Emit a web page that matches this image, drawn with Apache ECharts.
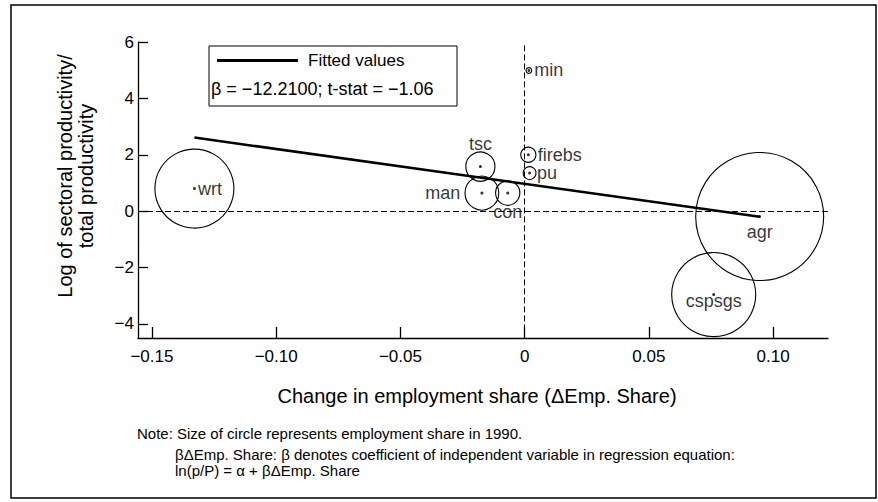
<!DOCTYPE html>
<html>
<head>
<meta charset="utf-8">
<script src="https://cdn.jsdelivr.net/npm/echarts@6/dist/echarts.min.js"></script>
<style>html,body{margin:0;padding:0;background:#fff;}#c{width:878px;height:502px;}</style>
</head>
<body>
<div id="c"></div>
<script>
// ---- data ----
const categories   = ['wrt','tsc','man','con','min','firebs','pu','agr','cspsgs'];
const empChange    = [-0.1329,-0.0178,-0.0172,-0.0068,0.0017,0.0015,0.0020,0.0946,0.0761];
const logRelProd   = [0.80,1.58,0.64,0.64,4.99,2.00,1.35,-0.19,-2.96];
const empShare1990 = [19.1,2.6,3.5,1.8,0.1,0.7,0.5,50.1,21.6];
const fittedX = [-0.1329, 0.0946];
const fittedY = [2.61, -0.20];
const xTicks = [-0.15,-0.10,-0.05,0,0.05,0.10];
const yTicks = [-4,-2,0,2,4,6];

// ---- styling / layout ----
const FONT = 'Liberation Sans, Arial, Helvetica, sans-serif';
const labelLayout = {
  wrt:{position:'right',distance:2}, tsc:{position:'top',distance:12},
  man:{position:'left',distance:20}, con:{position:'bottom',distance:8},
  min:{position:'right',distance:4}, firebs:{position:'right',distance:8},
  pu:{position:'right',distance:6}, agr:{position:'bottom',distance:5},
  cspsgs:{position:'bottom',distance:-4}
};
const sizeScale = 18.08; // diameter px per sqrt(share)
const minus = s => s.replace('-', '\u2212');
const fmtX = v => v === 0 ? '0' : minus(v.toFixed(2));
const fmtY = v => minus(String(v));

const pts = categories.map((n,i)=>({name:n, value:[empChange[i], logRelProd[i], empShare1990[i]]}));
const dots = categories.map((n,i)=>({
  name:n, value:[empChange[i], logRelProd[i]],
  label:{show:true, position:labelLayout[n].position, distance:labelLayout[n].distance}
}));

const chart = echarts.init(document.getElementById('c'), null, {renderer:'svg'});
chart.setOption({
  animation:false,
  backgroundColor:'#fff',
  textStyle:{fontFamily:FONT, color:'#000'},
  grid:{left:138, right:50, top:42, bottom:164},
  legend:{
    data:['Fitted values'], left:217, top:52, padding:0,
    icon:'rect', itemWidth:81, itemHeight:3,
    textStyle:{fontFamily:FONT, fontSize:17, color:'#000', padding:[0,0,0,5]}
  },
  xAxis:{
    type:'value', min:-0.1556, max:0.1221,
    name:'Change in employment share (\u0394Emp. Share)', nameLocation:'middle', nameGap:48,
    nameTextStyle:{fontFamily:FONT, fontSize:20, color:'#000', padding:[0,12,0,0]},
    axisLine:{show:true, onZero:false, lineStyle:{color:'#000', width:1.3}},
    axisTick:{show:true, inside:true, length:11, customValues:xTicks, lineStyle:{color:'#000', width:1.3}},
    axisLabel:{show:true, customValues:xTicks, formatter:fmtX, fontFamily:FONT, fontSize:17, color:'#000', margin:10},
    splitLine:{show:false}
  },
  yAxis:{
    type:'value', min:-4.5, max:6,
    name:'Log of sectoral productivity/\ntotal productivity', nameLocation:'middle', nameRotate:90, nameGap:42,
    nameTextStyle:{fontFamily:FONT, fontSize:20, lineHeight:21, color:'#000', align:'center', padding:[0,0,0,28]},
    axisLine:{show:true, onZero:false, lineStyle:{color:'#000', width:1.3}},
    axisTick:{show:true, inside:true, length:10, customValues:yTicks, lineStyle:{color:'#000', width:1.3}},
    axisLabel:{show:true, customValues:yTicks, formatter:fmtY, fontFamily:FONT, fontSize:17, color:'#000', margin:4},
    splitLine:{show:false}
  },
  series:[
    {
      name:'Employment share 1990', type:'scatter', data:pts, silent:true, z:2,
      symbol:'circle', symbolSize:v=>sizeScale*Math.sqrt(v[2]),
      itemStyle:{color:'rgba(0,0,0,0)', borderColor:'#000', borderWidth:1.1, opacity:1}
    },
    {
      name:'Sectors', type:'scatter', data:dots, silent:true, z:4,
      symbol:'circle', symbolSize:3, itemStyle:{color:'#000'},
      label:{formatter:'{b}', fontFamily:FONT, fontSize:18, color:'#000'},
      markLine:{
        silent:true, symbol:'none', label:{show:false},
        lineStyle:{color:'#000', width:1, type:[6,3]},
        data:[
          {yAxis:0},
          [{coord:[0,5.88]},{coord:[0,-4.5]}]
        ]
      }
    },
    {
      name:'Fitted values', type:'line', z:5,
      data:fittedX.map((x,i)=>[x, fittedY[i]]),
      symbol:'none', color:'#000', itemStyle:{color:'#000'},
      lineStyle:{color:'#000', width:2.6}
    }
  ],
  graphic:[
    {type:'rect', silent:true, shape:{x:11, y:5, width:865, height:493},
     style:{fill:'none', stroke:'#000', lineWidth:1.5}},
    {type:'rect', silent:true, shape:{x:209, y:46, width:248, height:60},
     style:{fill:'#fff', stroke:'#000', lineWidth:1}, z:0},
    {type:'text', silent:true, left:211, top:80,
     style:{text:'\u03b2 = \u221212.2100; t-stat = \u22121.06', font:'18px '+FONT, fill:'#000'}},
    {type:'text', silent:true, left:137, top:426,
     style:{text:'Note: Size of circle represents employment share in 1990.', font:'15px '+FONT, fill:'#000'}},
    {type:'text', silent:true, left:175, top:447,
     style:{text:'\u03b2\u0394Emp. Share: \u03b2 denotes coefficient of independent variable in regression equation:', font:'15px '+FONT, fill:'#000'}},
    {type:'text', silent:true, left:175, top:463,
     style:{text:'ln(p/P) = \u03b1 + \u03b2\u0394Emp. Share', font:'15px '+FONT, fill:'#000'}}
  ]
});
</script>
</body>
</html>
